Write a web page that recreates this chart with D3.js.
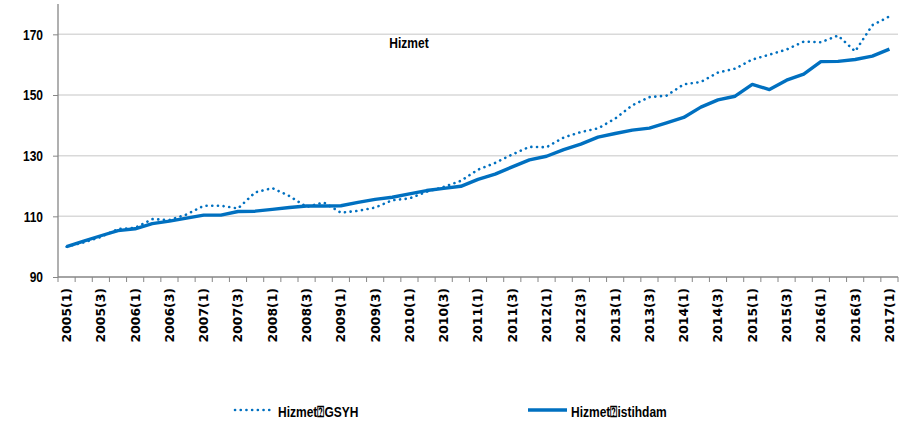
<!DOCTYPE html>
<html>
<head>
<meta charset="utf-8">
<script src="https://cdn.jsdelivr.net/npm/d3@7"></script>
<style>
  body { margin: 0; background: #ffffff; }
  svg { display: block; }
</style>
</head>
<body>
<div id="chart"></div>
<script>
// Dönemler (çeyrekler)
const quarters = [
    "2005(1)", "2005(2)", "2005(3)", "2005(4)",
    "2006(1)", "2006(2)", "2006(3)", "2006(4)",
    "2007(1)", "2007(2)", "2007(3)", "2007(4)",
    "2008(1)", "2008(2)", "2008(3)", "2008(4)",
    "2009(1)", "2009(2)", "2009(3)", "2009(4)",
    "2010(1)", "2010(2)", "2010(3)", "2010(4)",
    "2011(1)", "2011(2)", "2011(3)", "2011(4)",
    "2012(1)", "2012(2)", "2012(3)", "2012(4)",
    "2013(1)", "2013(2)", "2013(3)", "2013(4)",
    "2014(1)", "2014(2)", "2014(3)", "2014(4)",
    "2015(1)", "2015(2)", "2015(3)", "2015(4)",
    "2016(1)", "2016(2)", "2016(3)", "2016(4)",
    "2017(1)"
];

// Hizmet GSYH (noktalı)
const gsyh = [
    100.0, 101.4, 103.2, 105.8, 106.2, 109.1, 108.8, 110.6,
    113.5, 113.5, 112.6, 117.9, 119.3, 116.7, 113.1, 114.6,
    111.2, 111.8, 112.9, 115.3, 115.9, 118.1, 119.7, 121.7,
    125.4, 127.6, 130.4, 132.9, 132.8, 136.0, 137.8, 139.0,
    142.2, 146.6, 149.3, 149.8, 153.5, 154.3, 157.4, 158.7,
    161.7, 163.3, 165.0, 167.6, 167.4, 169.6, 164.4, 173.0,
    175.9
];

// Hizmet istihdam (düz çizgi)
const istihdam = [
    100.0, 101.8, 103.6, 105.3, 105.9, 107.6, 108.4, 109.4,
    110.4, 110.4, 111.6, 111.7, 112.3, 112.9, 113.4, 113.4,
    113.5, 114.6, 115.6, 116.3, 117.4, 118.5, 119.2, 119.9,
    122.2, 123.9, 126.3, 128.6, 129.8, 132.0, 133.8, 136.1,
    137.3, 138.4, 139.1, 140.8, 142.6, 146.0, 148.4, 149.6,
    153.5, 151.8, 154.9, 156.9, 161.0, 161.1, 161.7, 162.8,
    165.1
];

const xTickLabels = [
    "2005(1)", "2005(3)", "2006(1)", "2006(3)", "2007(1)", "2007(3)",
    "2008(1)", "2008(3)", "2009(1)", "2009(3)", "2010(1)", "2010(3)",
    "2011(1)", "2011(3)", "2012(1)", "2012(3)", "2013(1)", "2013(3)",
    "2014(1)", "2014(3)", "2015(1)", "2015(3)", "2016(1)", "2016(3)",
    "2017(1)"
];
const yTicks = [90, 110, 130, 150, 170];
const yDomain = [90, 180];

const chartTitle = "Hizmet";
const seriesNames = ["Hizmet\u2370GSYH", "Hizmet\u2370istihdam"];

const width = 917, height = 423;
const margin = { top: 4, right: 19, bottom: 146, left: 58 };
const blue = "#0070c0";
const sans = "'Liberation Sans', Arial, sans-serif";
const squeeze = 0.8; // dar yazı efekti

const svg = d3.select("#chart").append("svg")
    .attr("width", width)
    .attr("height", height);

const x = d3.scaleBand()
    .domain(quarters)
    .range([margin.left, width - margin.right])
    .padding(0);

const y = d3.scaleLinear()
    .domain(yDomain)
    .range([height - margin.bottom, margin.top]);

const cx = d => x(d) + x.bandwidth() / 2;

// Grid
svg.append("g")
    .selectAll("line")
    .data(yTicks.slice(1))
    .enter()
    .append("line")
    .attr("x1", margin.left)
    .attr("x2", width - margin.right)
    .attr("y1", d => y(d))
    .attr("y2", d => y(d))
    .attr("stroke", "#d9d9d9")
    .attr("stroke-width", 1.5);

// Y ekseni
const yAxis = svg.append("g")
    .attr("transform", `translate(${margin.left},0)`)
    .call(d3.axisLeft(y).tickValues(yTicks).tickSize(5).tickSizeOuter(0));
yAxis.select(".domain").attr("stroke", "#868686").attr("stroke-width", 1.3)
    .attr("d", `M0,${y(yDomain[1])}V${y(yDomain[0])}`);
yAxis.selectAll(".tick line").attr("stroke", "#868686");
yAxis.selectAll("text")
    .attr("x", 0)
    .attr("transform", `translate(-15,0) scale(${squeeze},1)`)
    .style("font-family", sans)
    .style("font-size", "15px")
    .style("font-weight", "bold")
    .attr("fill", "#000");

// X ekseni
const xAxis = svg.append("g")
    .attr("transform", `translate(0,${height - margin.bottom})`);
xAxis.append("line")
    .attr("x1", margin.left)
    .attr("x2", width - margin.right)
    .attr("stroke", "#868686")
    .attr("stroke-width", 1.3);
xAxis.selectAll(".qtick")
    .data(quarters.map(q => x(q)).concat([x.range()[1]]))
    .enter()
    .append("line")
    .attr("class", "qtick")
    .attr("x1", d => d)
    .attr("x2", d => d)
    .attr("y1", 0)
    .attr("y2", 5)
    .attr("stroke", "#868686");
xAxis.selectAll(".xlab")
    .data(xTickLabels)
    .enter()
    .append("text")
    .attr("class", "xlab")
    .attr("transform", d => `translate(${cx(d)},11) rotate(-90)`)
    .attr("dy", "0.36em")
    .attr("text-anchor", "end")
    .style("font-family", "'DejaVu Sans', sans-serif")
    .style("font-size", "12.4px")
    .style("font-weight", "bold")
    .attr("fill", "#000")
    .text(d => d);

// Çizgiler
const line = d3.line()
    .x((d, i) => cx(quarters[i]))
    .y(d => y(d));

svg.append("path")
    .datum(istihdam)
    .attr("fill", "none")
    .attr("stroke", blue)
    .attr("stroke-width", 3.4)
    .attr("stroke-linejoin", "round")
    .attr("d", line);

svg.append("path")
    .datum(gsyh)
    .attr("fill", "none")
    .attr("stroke", blue)
    .attr("stroke-width", 2.6)
    .attr("stroke-linecap", "round")
    .attr("stroke-dasharray", "0.1,5.6")
    .attr("d", line);

// Başlık
svg.append("text")
    .attr("transform", `translate(409,48) scale(${squeeze},1)`)
    .attr("text-anchor", "middle")
    .style("font-family", sans)
    .style("font-size", "15px")
    .style("font-weight", "bold")
    .text(chartTitle);

// Lejant
const legend = svg.append("g").attr("transform", "translate(0,410)");
const legendItems = [
    { name: seriesNames[0], x0: 235, dash: true },
    { name: seriesNames[1], x0: 528, dash: false }
];
legendItems.forEach(it => {
    legend.append("line")
        .attr("x1", it.x0)
        .attr("x2", it.x0 + 39)
        .attr("stroke", blue)
        .attr("stroke-width", it.dash ? 2.6 : 3.4)
        .attr("stroke-linecap", it.dash ? "round" : "butt")
        .attr("stroke-dasharray", it.dash ? "0.1,5.6" : null);
    legend.append("text")
        .attr("transform", `translate(${it.x0 + 43},6.5) scale(${squeeze},1)`)
        .style("font-family", sans)
        .style("font-size", "15px")
        .style("font-weight", "bold")
        .text(it.name);
});
</script>
</body>
</html>
